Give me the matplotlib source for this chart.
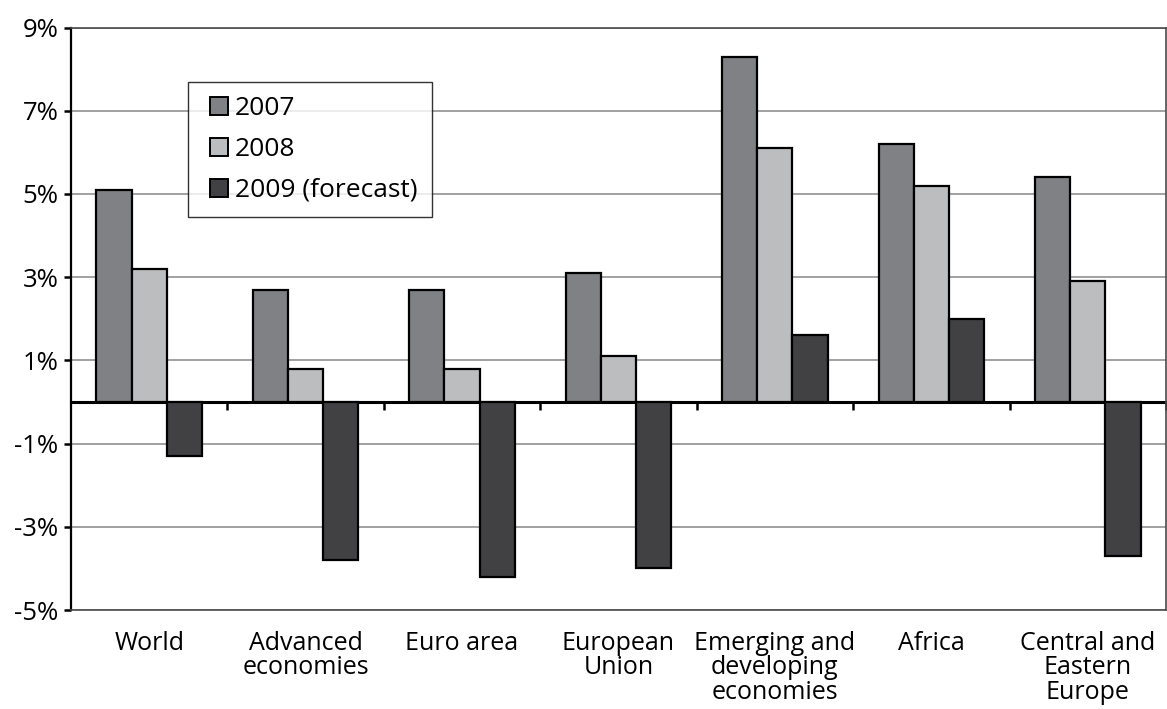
import matplotlib

matplotlib.use("Agg")
import matplotlib.pyplot as plt
from matplotlib.lines import Line2D
import numpy as np

plt.rcParams["font.family"] = ["Open Sans", "DejaVu Sans"]

categories = [
    "World",
    "Advanced\neconomies",
    "Euro area",
    "European\nUnion",
    "Emerging and\ndeveloping\neconomies",
    "Africa",
    "Central and\nEastern\nEurope",
]
growth_2007 = [5.1, 2.7, 2.7, 3.1, 8.3, 6.2, 5.4]
growth_2008 = [3.2, 0.8, 0.8, 1.1, 6.1, 5.2, 2.9]
growth_2009 = [-1.3, -3.8, -4.2, -4.0, 1.6, 2.0, -3.7]
series_labels = ["2007", "2008", "2009 (forecast)"]
y_ticks = [-5, -3, -1, 1, 3, 5, 7, 9]

colors = ["#808184", "#bcbdbf", "#414042"]

fig = plt.figure(figsize=(11.67, 7.09), dpi=100)
ax = fig.add_axes([0.0608, 0.1396, 0.9383, 0.8216])

x = np.arange(len(categories))
width = 0.225
for i, (vals, lab, col) in enumerate(zip([growth_2007, growth_2008, growth_2009], series_labels, colors)):
    ax.bar(x + (i - 1) * width, vals, width=width, color=col, edgecolor="black",
           linewidth=1.6, label=lab, zorder=3)

ymin, ymax = -5, 9
ax.set_ylim(ymin, ymax)
ax.set_xlim(-0.5, len(categories) - 0.5)
ax.set_yticks(y_ticks, labels=[f"{t}%" for t in y_ticks])
ax.yaxis.grid(True, color="#9a9a9a", linewidth=1.3, zorder=0)
ax.set_axisbelow(True)
ax.tick_params(axis="y", direction="out", length=5, width=1.8, labelsize=18.5, pad=4)

ax.set_xticks(x, labels=categories)
ax.tick_params(axis="x", length=0, labelsize=18, pad=15)
for lbl in ax.get_xticklabels():
    lbl.set_linespacing(0.97)
    lbl.set_verticalalignment("top")

ax.spines["left"].set_linewidth(1.6)
ax.spines["left"].set_color("black")
for side in ("top", "right", "bottom"):
    ax.spines[side].set_linewidth(1.2)
    ax.spines[side].set_color("#4a4a4a")

# category axis crossing at zero, with tick marks between groups
zero_pos = (0 - ymin) / (ymax - ymin)
sec = ax.secondary_xaxis(zero_pos)
sec.set_xticks(np.arange(len(categories)) + 0.5, labels=[])
sec.tick_params(axis="x", direction="out", length=6, width=1.8, color="black")
for sp in sec.spines.values():
    sp.set_linewidth(2.2)
    sp.set_color("black")

# square swatches for the legend
handles = [Line2D([], [], linestyle="none", marker="s", markersize=12.5,
                  markerfacecolor=col, markeredgecolor="black", markeredgewidth=1.4)
           for col in colors]
leg = ax.legend(handles, series_labels, loc="upper left", bbox_to_anchor=(0.1066, 0.907),
                borderaxespad=0, fontsize=19, frameon=True, fancybox=False,
                edgecolor="black", handlelength=1.25, handletextpad=0.0,
                labelspacing=0.6, borderpad=0.55)
leg.get_frame().set_linewidth(1.0)
leg.set_zorder(5)

fig.savefig("out.png", dpi=100)
plt.close(fig)
